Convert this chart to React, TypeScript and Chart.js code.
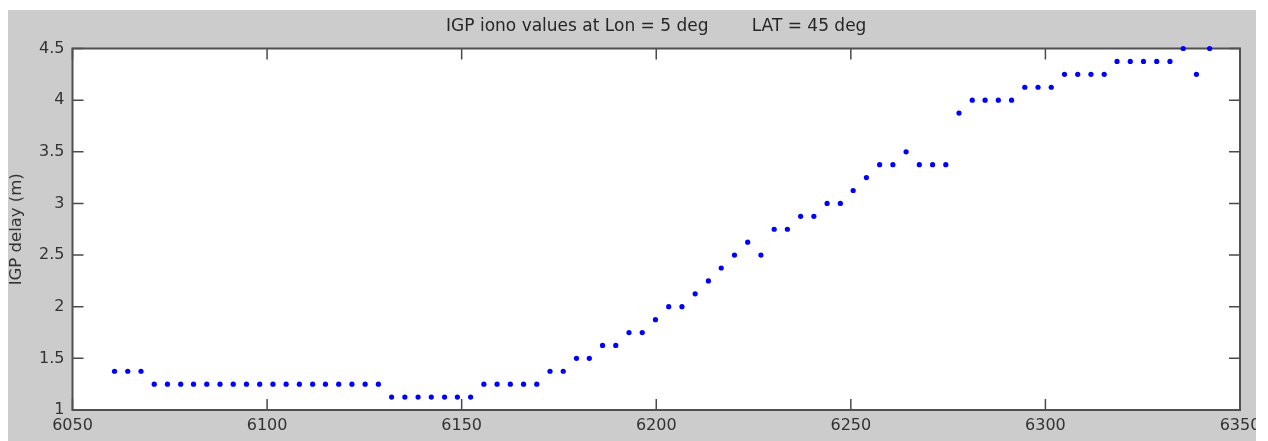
import { useEffect, useRef } from "react";
import { Chart, registerables } from "chart.js";

Chart.register(...registerables);

const titleText = "IGP iono values at Lon = 5 deg        LAT = 45 deg";
const yAxisLabel = "IGP delay (m)";
const xTickValues = [6050, 6100, 6150, 6200, 6250, 6300, 6350];
const yTickValues = [1, 1.5, 2, 2.5, 3, 3.5, 4, 4.5];

const epochs = [
  6060.8, 6064.2, 6067.6, 6071.0, 6074.4, 6077.8, 6081.1, 6084.5, 6087.9, 6091.3,
  6094.7, 6098.1, 6101.5, 6104.9, 6108.3, 6111.7, 6115.0, 6118.4, 6121.8, 6125.2,
  6128.6, 6132.0, 6135.4, 6138.8, 6142.2, 6145.6, 6148.9, 6152.3, 6155.7, 6159.1,
  6162.5, 6165.9, 6169.3, 6172.7, 6176.1, 6179.5, 6182.8, 6186.2, 6189.6, 6193.0,
  6196.4, 6199.8, 6203.2, 6206.6, 6210.0, 6213.4, 6216.7, 6220.1, 6223.5, 6226.9,
  6230.3, 6233.7, 6237.1, 6240.5, 6243.9, 6247.3, 6250.6, 6254.0, 6257.4, 6260.8,
  6264.2, 6267.6, 6271.0, 6274.4, 6277.8, 6281.2, 6284.5, 6287.9, 6291.3, 6294.7,
  6298.1, 6301.5, 6304.9, 6308.3, 6311.7, 6315.1, 6318.4, 6321.8, 6325.2, 6328.6,
  6332.0, 6335.4, 6338.8, 6342.2,
];

const igpDelay = [
  1.375, 1.375, 1.375,
  1.25, 1.25, 1.25, 1.25, 1.25, 1.25, 1.25, 1.25, 1.25, 1.25, 1.25, 1.25, 1.25, 1.25, 1.25, 1.25, 1.25, 1.25,
  1.125, 1.125, 1.125, 1.125, 1.125, 1.125, 1.125,
  1.25, 1.25, 1.25, 1.25, 1.25,
  1.375, 1.375,
  1.5, 1.5,
  1.625, 1.625,
  1.75, 1.75,
  1.875,
  2.0, 2.0,
  2.125,
  2.25,
  2.375,
  2.5,
  2.625,
  2.5,
  2.75, 2.75,
  2.875, 2.875,
  3.0, 3.0,
  3.125,
  3.25,
  3.375, 3.375,
  3.5,
  3.375, 3.375, 3.375,
  3.875,
  4.0, 4.0, 4.0, 4.0,
  4.125, 4.125, 4.125,
  4.25, 4.25, 4.25, 4.25,
  4.375, 4.375, 4.375, 4.375, 4.375,
  4.5,
  4.25,
  4.5,
];

const FONT = "'DejaVu Sans', 'Liberation Sans', sans-serif";

const framePlugin = {
  id: "matlabFrame",
  beforeDraw(chart: any) {
    const { ctx, chartArea: a } = chart;
    ctx.save();
    ctx.fillStyle = "#ffffff";
    ctx.fillRect(a.left, a.top, a.right - a.left, a.bottom - a.top);
    ctx.restore();
  },
  beforeDatasetsDraw(chart: any) {
    const { ctx, chartArea: a, scales } = chart;
    const xs = scales.x;
    const ys = scales.y;
    const tl = 11;
    ctx.save();
    ctx.strokeStyle = "#4a4a4a";
    ctx.lineWidth = 1.5;
    ctx.beginPath();
    for (const v of xTickValues) {
      const px = xs.getPixelForValue(v);
      ctx.moveTo(px, a.bottom);
      ctx.lineTo(px, a.bottom - tl);
      ctx.moveTo(px, a.top);
      ctx.lineTo(px, a.top + tl);
    }
    for (const v of yTickValues) {
      const py = ys.getPixelForValue(v);
      ctx.moveTo(a.left, py);
      ctx.lineTo(a.left + tl, py);
      ctx.moveTo(a.right, py);
      ctx.lineTo(a.right - tl, py);
    }
    ctx.stroke();
    ctx.lineWidth = 2;
    ctx.strokeStyle = "#505050";
    ctx.strokeRect(a.left, a.top, a.right - a.left, a.bottom - a.top);
    ctx.restore();
  },
};

export default function App() {
  const canvasRef = useRef<HTMLCanvasElement | null>(null);

  useEffect(() => {
    const canvas = canvasRef.current;
    if (!canvas) return;
    const points = epochs.map((x, i) => ({ x, y: igpDelay[i] }));
    const chart = new Chart(canvas, {
      type: "scatter",
      data: {
        datasets: [
          {
            label: "IGP delay",
            data: points,
            pointStyle: "circle",
            pointRadius: 2.6,
            pointBorderWidth: 0,
            backgroundColor: "#0000ff",
            borderColor: "#0000ff",
            clip: false as any,
          },
        ],
      },
      options: {
        responsive: false,
        animation: false,
        devicePixelRatio: 1,
        layout: { padding: { left: 0, right: 16, top: 0, bottom: 0 } },
        plugins: {
          legend: { display: false },
          tooltip: { enabled: false },
          title: {
            display: true,
            text: titleText,
            fullSize: false,
            color: "#262626",
            font: { family: FONT, size: 17, weight: "normal", lineHeight: 1.2 },
            padding: { top: 6.8, bottom: 11.3 },
          },
        },
        scales: {
          x: {
            type: "linear",
            min: 6050,
            max: 6350,
            grid: { display: false, drawTicks: false, tickLength: 0 },
            border: { display: false },
            afterBuildTicks: (scale: any) => {
              scale.ticks = xTickValues.map((v) => ({ value: v }));
            },
            afterFit: (scale: any) => {
              scale.height = 31;
              scale.paddingLeft = 0;
              scale.paddingRight = 0;
            },
            ticks: {
              color: "#333333",
              font: { family: FONT, size: 16 },
              padding: 6,
              maxRotation: 0,
              autoSkip: false,
              callback: (v: any) => String(v),
            },
          },
          y: {
            type: "linear",
            min: 1,
            max: 4.5,
            grid: { display: false, drawTicks: false, tickLength: 0 },
            border: { display: false },
            afterBuildTicks: (scale: any) => {
              scale.ticks = yTickValues.map((v) => ({ value: v }));
            },
            afterFit: (scale: any) => {
              scale.width = 64.5;
              scale.paddingTop = 0;
              scale.paddingBottom = 0;
            },
            title: {
              display: true,
              text: yAxisLabel,
              color: "#333333",
              font: { family: FONT, size: 16.5, lineHeight: 1 },
              padding: { top: 0.8, bottom: 0 },
            },
            ticks: {
              color: "#333333",
              font: { family: FONT, size: 16 },
              padding: 8,
              autoSkip: false,
              callback: (v: any) => String(v),
            },
          },
        },
      },
      plugins: [framePlugin],
    });
    return () => chart.destroy();
  }, []);

  return (
    <div
      style={{
        position: "absolute",
        left: 8,
        top: 10,
        width: 1248,
        height: 431,
        background: "#cccccc",
        overflow: "hidden",
      }}
    >
      <canvas ref={canvasRef} width={1248} height={431} style={{ display: "block" }} />
    </div>
  );
}
